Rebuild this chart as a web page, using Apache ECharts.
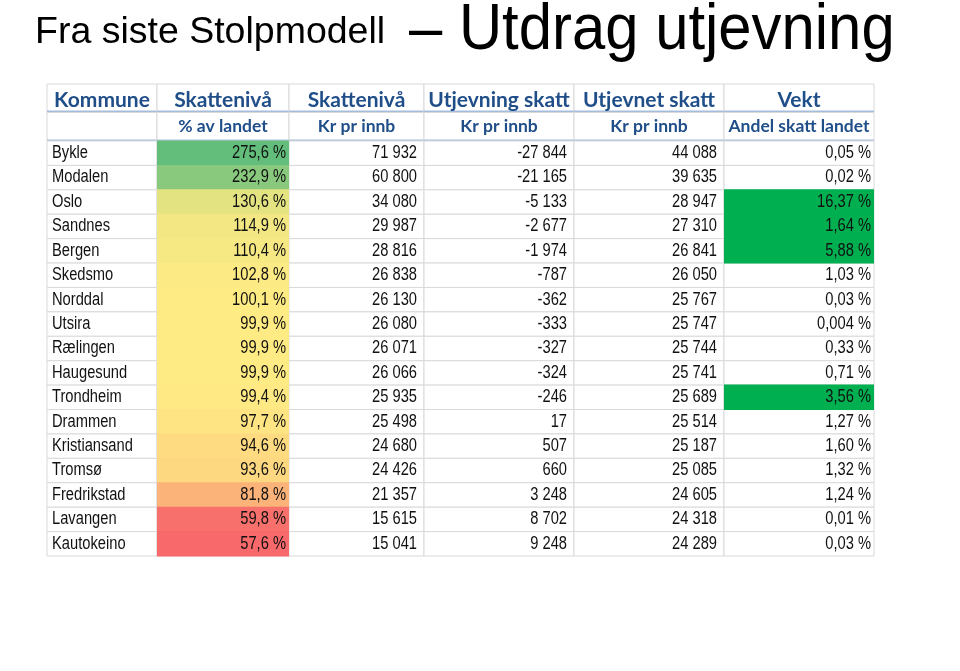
<!DOCTYPE html>
<html>
<head>
<meta charset="utf-8">
<script src="https://cdn.jsdelivr.net/npm/echarts@6/dist/echarts.min.js"></script>
<style>
html,body{margin:0;padding:0;background:#fff;}
#chart{width:960px;height:671px;}
</style>
</head>
<body>
<div id="chart"></div>
<script>
// ---------- data ----------
const titleSmall = 'Fra siste Stolpmodell';
const titleBig = '– Utdrag utjevning';
const headerTop = ['Kommune', 'Skattenivå', 'Skattenivå', 'Utjevning skatt', 'Utjevnet skatt', 'Vekt'];
const headerSub = ['', '% av landet', 'Kr pr innb', 'Kr pr innb', 'Kr pr innb', 'Andel skatt landet'];
const kommuner = ['Bykle', 'Modalen', 'Oslo', 'Sandnes', 'Bergen', 'Skedsmo', 'Norddal', 'Utsira', 'Rælingen', 'Haugesund', 'Trondheim', 'Drammen', 'Kristiansand', 'Tromsø', 'Fredrikstad', 'Lavangen', 'Kautokeino'];
const skattenivaPct = [275.6, 232.9, 130.6, 114.9, 110.4, 102.8, 100.1, 99.9, 99.9, 99.9, 99.4, 97.7, 94.6, 93.6, 81.8, 59.8, 57.6];
const skattenivaKr = [71932, 60800, 34080, 29987, 28816, 26838, 26130, 26080, 26071, 26066, 25935, 25498, 24680, 24426, 21357, 15615, 15041];
const utjevningKr = [-27844, -21165, -5133, -2677, -1974, -787, -362, -333, -327, -324, -246, 17, 507, 660, 3248, 8702, 9248];
const utjevnetKr = [44088, 39635, 28947, 27310, 26841, 26050, 25767, 25747, 25744, 25741, 25689, 25514, 25187, 25085, 24605, 24318, 24289];
const vektPct = [0.05, 0.02, 16.37, 1.64, 5.88, 1.03, 0.03, 0.004, 0.33, 0.71, 3.56, 1.27, 1.60, 1.32, 1.24, 0.01, 0.03];
const vektHighlightCount = 4; // largest weights highlighted in green

// ---------- layout / style ----------
const colWidths = [110, 132, 135, 150, 150, 150];
const colPad = [5, 3, 7, 7, 7, 3];
const colAlign = ['left', 'right', 'right', 'right', 'right', 'right'];
const colEdges = colWidths.reduce((a, w) => { a.push(a[a.length - 1] + w); return a; }, [0]);
const totalW = colEdges[colEdges.length - 1];
const HEAD_BLUE = '#1F4E89';
const SEP_BLUE = '#A5BDDB';
const GRID_GRAY = '#D9D9D9';
const DATA_FONT = '"Liberation Sans", Arial, sans-serif';
const DATA_SCALE_X = 0.84;
const HEAD_FONT = 'Lato, "Open Sans", sans-serif';

// ---------- formatting ----------
function group(n) {
  const s = String(Math.abs(Math.round(n)));
  const g = s.replace(/\B(?=(\d{3})+(?!\d))/g, ' ');
  return (n < 0 ? '-' : '') + g;
}
function pct(v, d) { return v.toFixed(d).replace('.', ',') + ' %'; }
function vektFmt(v) { return v.toFixed(2) === '0.00' ? pct(v, 3) : pct(v, 2); }

// 3-colour scale (min red, median yellow, max green)
function hex2rgb(h) { return [1, 3, 5].map(i => parseInt(h.substr(i, 2), 16)); }
function mix(a, b, t) { const A = hex2rgb(a), B = hex2rgb(b); return 'rgb(' + A.map((v, i) => Math.round(v + (B[i] - v) * t)).join(',') + ')'; }
const sortedPct = skattenivaPct.slice().sort((a, b) => a - b);
const pMin = sortedPct[0], pMax = sortedPct[sortedPct.length - 1], pMid = sortedPct[Math.floor(sortedPct.length / 2)];
function scaleColor(v) {
  if (v <= pMid) return mix('#F8696B', '#FFEB84', (v - pMin) / (pMid - pMin));
  return mix('#FFEB84', '#63BE7B', (v - pMid) / (pMax - pMid));
}
const vektThreshold = vektPct.slice().sort((a, b) => b - a)[vektHighlightCount - 1];

// ---------- cells ----------
const dataCells = [];
kommuner.forEach((k, r) => {
  const texts = [k, pct(skattenivaPct[r], 1), group(skattenivaKr[r]), group(utjevningKr[r]), group(utjevnetKr[r]), vektFmt(vektPct[r])];
  texts.forEach((t, c) => {
    let fill = null;
    if (c === 1) fill = scaleColor(skattenivaPct[r]);
    if (c === 5 && vektPct[r] >= vektThreshold) fill = '#00B050';
    dataCells.push({ col: c, row: r, text: t, fill: fill });
  });
});
const headCells = [];
headerTop.forEach((t, c) => headCells.push({ col: c, row: 0, text: t }));
headerSub.forEach((t, c) => headCells.push({ col: c, row: 1, text: t }));

function cellRect(api, col, row) {
  const x0 = api.coord([colEdges[col], row])[0];
  const x1 = api.coord([colEdges[col + 1], row])[0];
  const yc = api.coord([0, row])[1];
  const h = api.size([0, 1])[1];
  return { x: x0, y: yc - h / 2, width: x1 - x0, height: h };
}

const chart = echarts.init(document.getElementById('chart'), null, { renderer: 'canvas' });
chart.setOption({
  backgroundColor: '#ffffff',
  animation: false,
  graphic: [
    { type: 'text', x: 35, y: 33, scaleX: 1.0,
      style: { text: titleSmall, x: 0, y: 0, verticalAlign: 'middle', fontFamily: '"Liberation Sans", Arial, sans-serif', fontSize: 37.5, fill: '#000' } },
    { type: 'text', x: 409, y: 31, scaleX: 0.935,
      style: { text: titleBig, x: 0, y: 0, verticalAlign: 'middle', fontFamily: '"Liberation Sans", Arial, sans-serif', fontSize: 64, fill: '#000' } }
  ],
  grid: [
    { left: 47, right: 960 - 874, top: 84, height: 57 },
    { left: 47, right: 960 - 874, top: 141, height: 415 }
  ],
  xAxis: [
    { gridIndex: 0, type: 'value', min: 0, max: totalW, show: false },
    { gridIndex: 1, type: 'value', min: 0, max: totalW, show: false }
  ],
  yAxis: [
    { gridIndex: 0, type: 'category', data: ['top', 'sub'], inverse: true, show: false },
    { gridIndex: 1, type: 'category', data: kommuner, inverse: true, show: false }
  ],
  series: [
    {
      name: 'headGrid', type: 'custom', xAxisIndex: 0, yAxisIndex: 0, z: 1,
      data: headCells.map(c => [c.col, c.row]),
      renderItem: function (params, api) {
        const c = headCells[params.dataIndex];
        const r = cellRect(api, c.col, c.row);
        const children = [
          { type: 'rect', shape: r, style: { fill: '#fff', stroke: GRID_GRAY, lineWidth: 1 } },
          { type: 'rect', shape: { x: r.x, y: r.y + r.height - (c.row === 0 ? 2 : 1.5), width: r.width, height: c.row === 0 ? 3.5 : 3 }, style: { fill: SEP_BLUE } }
        ];
        if (c.text) {
          children.push({
            type: 'text',
            style: {
              text: c.text, x: r.x + r.width / 2, y: r.y + r.height / 2 + (c.row === 0 ? 2 : 0),
              align: 'center', verticalAlign: 'middle',
              fontFamily: HEAD_FONT, fontWeight: 'bold', fontSize: c.row === 0 ? 21 : 17.5, fill: HEAD_BLUE
            }
          });
        }
        return { type: 'group', children: children };
      }
    },
    {
      name: 'dataGrid', type: 'custom', xAxisIndex: 1, yAxisIndex: 1, z: 1,
      data: dataCells.map(c => [c.col, c.row]),
      renderItem: function (params, api) {
        const c = dataCells[params.dataIndex];
        const r = cellRect(api, c.col, c.row);
        return { type: 'rect', shape: r, style: { fill: '#fff', stroke: GRID_GRAY, lineWidth: 1 } };
      }
    },
    {
      name: 'dataFill', type: 'custom', xAxisIndex: 1, yAxisIndex: 1, z: 2,
      data: dataCells.map(c => [c.col, c.row]),
      renderItem: function (params, api) {
        const c = dataCells[params.dataIndex];
        if (!c.fill) return null;
        const r = cellRect(api, c.col, c.row);
        return { type: 'rect', shape: { x: r.x, y: r.y - 0.5, width: r.width, height: r.height + 1 }, style: { fill: c.fill } };
      }
    },
    {
      name: 'dataText', type: 'custom', xAxisIndex: 1, yAxisIndex: 1, z: 3,
      data: dataCells.map(c => [c.col, c.row]),
      renderItem: function (params, api) {
        const c = dataCells[params.dataIndex];
        const r = cellRect(api, c.col, c.row);
        const left = colAlign[c.col] === 'left';
        return {
          type: 'text',
          x: left ? r.x + colPad[c.col] : r.x + r.width - colPad[c.col],
          y: r.y + r.height / 2,
          scaleX: DATA_SCALE_X,
          style: {
            text: c.text, x: 0, y: 0,
            align: colAlign[c.col], verticalAlign: 'middle',
            fontFamily: DATA_FONT, fontSize: 17.5, fill: '#111'
          }
        };
      }
    }
  ]
});
</script>
</body>
</html>
